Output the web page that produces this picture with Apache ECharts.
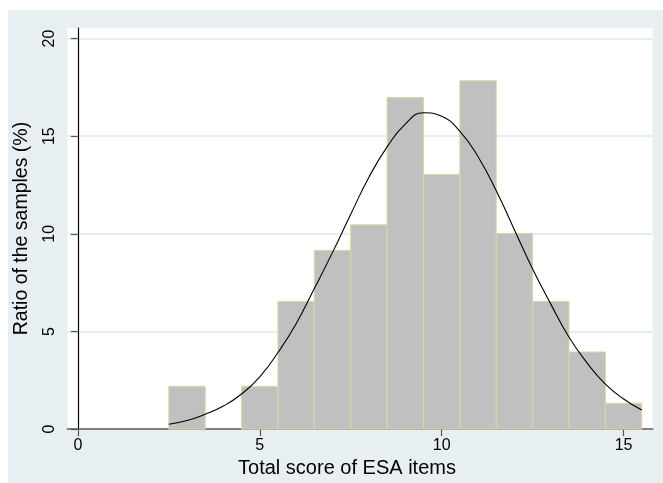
<!DOCTYPE html>
<html>
<head>
<meta charset="utf-8">
<script src="https://cdn.jsdelivr.net/npm/echarts@6/dist/echarts.min.js"></script>
<style>
html,body{margin:0;padding:0;background:#ffffff;}
#chart{width:663px;height:483px;}
</style>
</head>
<body>
<div id="chart"></div>
<script>
// Histogram bins (score, percent of samples)
const binScores = [3, 5, 6, 7, 8, 9, 10, 11, 12, 13, 14, 15];
const binPercents = [2.19, 2.19, 6.54, 9.15, 10.46, 16.98, 13.04, 17.84, 10.02, 6.54, 3.95, 1.32];
// Fitted normal curve
const curveX = [2.5, 3.0, 3.5, 4.0, 4.5, 5.0, 5.5, 6.0, 6.5, 7.0, 7.5, 8.0, 8.5, 9.0, 9.5, 10.0, 10.5, 11.0, 11.5, 12.0, 12.5, 13.0, 13.5, 14.0, 14.5, 15.0, 15.5];
const curveY = [0.25, 0.44, 0.76, 1.18, 1.8, 2.68, 3.92, 5.4, 7.2, 9.05, 11.0, 12.9, 14.45, 15.62, 16.2, 16.02, 15.25, 13.95, 12.2, 10.2, 8.2, 6.4, 4.7, 3.38, 2.3, 1.54, 0.98];
const xTickValues = [0, 5, 10, 15];
const yTickValues = [0, 5, 10, 15, 20];
const xTitle = 'Total score of ESA items';
const yTitle = 'Ratio of the samples (%)';

const FONT = "'Liberation Sans', Arial, sans-serif";
const chart = echarts.init(document.getElementById('chart'), null, {renderer: 'canvas'});

const option = {
  backgroundColor: '#ffffff',
  animation: false,
  graphic: [{
    type: 'rect', z: -10, silent: true,
    shape: {x: 8, y: 10, width: 655, height: 473},
    style: {fill: '#E8EFF2'}
  }],
  grid: {
    left: 67.3, top: 28, right: 10.3, bottom: 49.7,
    show: true, backgroundColor: '#ffffff', borderWidth: 0
  },
  xAxis: {
    type: 'value', min: -0.29, max: 15.8,
    name: xTitle, nameLocation: 'middle', nameGap: 26,
    nameTextStyle: {fontFamily: FONT, fontSize: 20, color: '#000', padding: [0, 26, 0, 0]},
    axisLine: {show: true, onZero: false, lineStyle: {color: '#5f5f5f', width: 1.6}},
    axisTick: {show: true, length: 7, customValues: xTickValues, lineStyle: {color: '#555', width: 1.2}},
    axisLabel: {customValues: xTickValues, fontFamily: FONT, fontSize: 16, color: '#000', margin: 8},
    splitLine: {show: false}
  },
  yAxis: {
    type: 'value', min: 0, max: 20.54,
    name: yTitle, nameLocation: 'middle', nameGap: 36, nameRotate: 90,
    nameTextStyle: {fontFamily: FONT, fontSize: 19.5, color: '#000'},
    axisLine: {show: true, lineStyle: {color: '#000', width: 1.2}},
    axisTick: {show: true, length: 7, customValues: yTickValues, lineStyle: {color: '#555', width: 1.2}},
    axisLabel: {customValues: yTickValues, rotate: 90, fontFamily: FONT, fontSize: 16, color: '#000', margin: 10},
    splitLine: {show: true, lineStyle: {color: '#E6EEF2', width: 2}}
  },
  series: [
    {
      type: 'custom',
      data: binScores.map((s, i) => [s, binPercents[i]]),
      renderItem: function (params, api) {
        const x = api.value(0), y = api.value(1);
        const tl = api.coord([x - 0.5, y]);
        const br = api.coord([x + 0.5, 0]);
        return {
          type: 'rect',
          shape: {x: tl[0], y: tl[1], width: br[0] - tl[0], height: br[1] - tl[1]},
          style: {fill: '#C0C0C0', stroke: '#DCD6A2', lineWidth: 1}
        };
      },
      z: 2
    },
    {
      type: 'line',
      data: curveX.map((x, i) => [x, curveY[i]]),
      smooth: 0.5,
      showSymbol: false,
      lineStyle: {color: '#000', width: 1.1},
      z: 3
    }
  ]
};
chart.setOption(option);
</script>
</body>
</html>
